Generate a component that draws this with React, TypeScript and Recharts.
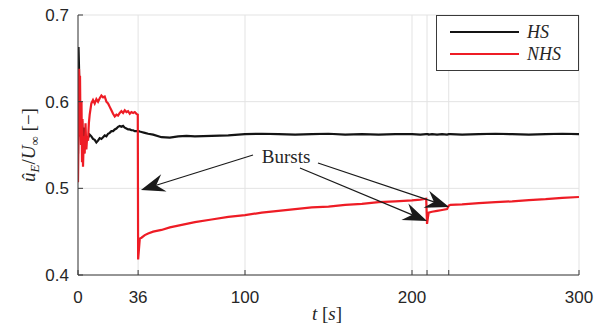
import React from 'react';
import {
  LineChart, Line, XAxis, YAxis, CartesianGrid, Legend, ReferenceLine, ReferenceDot,
} from 'recharts';

const times = [0, 0.3, 0.6, 0.9, 1.2, 1.5, 1.8, 2.1, 2.4, 2.7, 3,
  3.5, 4, 4.5, 5, 5.5, 6, 6.5, 7,
  8, 9, 10, 11, 12, 13, 14, 15, 16, 17, 18, 19, 20, 21, 22, 23, 24, 25, 26, 27, 28, 29, 30, 31, 32, 33, 34, 35,
  35.8, 36, 36.3, 37, 38, 40, 42, 45,
  50, 55, 60, 65, 70,
  80, 90, 100, 110, 120, 130, 140, 150, 160, 170, 180, 190, 200,
  205, 208.5, 209, 209.5, 210, 212, 215, 218, 221, 222, 223,
  230, 240, 250, 260, 270, 280, 290, 300];

const hsValues = [0.540, 0.663, 0.640, 0.575, 0.560, 0.568, 0.575, 0.565, 0.578, 0.565, 0.560,
  0.570, 0.558, 0.562, 0.555, 0.556, 0.558, 0.560, 0.562,
  0.560, 0.557, 0.556, 0.553, 0.555, 0.558, 0.557, 0.559, 0.561, 0.560, 0.563, 0.564, 0.566, 0.566, 0.568, 0.569, 0.571, 0.572, 0.571, 0.572, 0.570, 0.569, 0.568, 0.568, 0.567, 0.567, 0.566, 0.566,
  0.566, 0.566, 0.566, 0.5655, 0.565, 0.564, 0.563, 0.562,
  0.559, 0.5585, 0.560, 0.5605, 0.560,
  0.5605, 0.561, 0.5625, 0.563, 0.5625, 0.562, 0.5625, 0.563, 0.562, 0.5625, 0.562, 0.5625, 0.5625,
  0.562, 0.5625, 0.5625, 0.5625, 0.562, 0.5625, 0.562, 0.5625, 0.562, 0.5625, 0.5625,
  0.562, 0.5625, 0.563, 0.5625, 0.562, 0.5625, 0.563, 0.5625];

const nhsValues = [0.507, 0.560, 0.638, 0.620, 0.630, 0.570, 0.550, 0.600, 0.530, 0.580, 0.525,
  0.560, 0.540, 0.575, 0.545, 0.560, 0.555, 0.575, 0.585,
  0.598, 0.602, 0.598, 0.603, 0.600, 0.604, 0.607, 0.605, 0.606, 0.600, 0.598, 0.594, 0.590, 0.586, 0.583, 0.585, 0.584, 0.587, 0.589, 0.587, 0.590, 0.588, 0.589, 0.586, 0.588, 0.587, 0.588, 0.586,
  0.585, 0.418, 0.425, 0.442, 0.443, 0.446, 0.448, 0.450,
  0.452, 0.455, 0.457, 0.459, 0.461,
  0.464, 0.467, 0.469, 0.472, 0.474, 0.476, 0.478, 0.479, 0.481, 0.482, 0.484, 0.485, 0.486,
  0.487, 0.488, 0.459, 0.466, 0.472, 0.473, 0.474, 0.475, 0.476, 0.480, 0.481,
  0.4815, 0.483, 0.484, 0.485, 0.4865, 0.4875, 0.489, 0.490];

const xTicks = [0, 36, 100, 200, 209, 222, 300];
const xTickLabels = [0, 36, 100, 200, 300];
const yTicks = [0.4, 0.5, 0.6, 0.7];

const seriesNames = ['HS', 'NHS'];
const seriesColors = ['#141414', '#ee1c25'];

// annotation arrows: [start, tip] in data coordinates
const arrowSegments = [
  [{ x: 104.8, y: 0.5385 }, { x: 37.7, y: 0.4981 }],
  [{ x: 143.7, y: 0.5292 }, { x: 222.2, y: 0.4785 }],
  [{ x: 132.9, y: 0.5235 }, { x: 209.0, y: 0.4623 }],
];
const burstsText = { x: 124.6, y: 0.5362, label: 'Bursts' };

const data = times.map((t, i) => ({ t, hs: hsValues[i], nhs: nhsValues[i] }));

const AXIS = '#3a3a3a';
const TXT = '#262626';

const BottomTick = (props: any) => {
  const { x, y, payload } = props;
  const show = xTickLabels.includes(payload.value);
  return (
    <g>
      <line x1={x} x2={x} y1={y} y2={y - 5} stroke={AXIS} strokeWidth={1} />
      {show && (
        <text x={x} y={y + 28} textAnchor="middle" fontFamily="'Liberation Sans', Arial, sans-serif" fontSize={17} fill={TXT}>
          {payload.value}
        </text>
      )}
    </g>
  );
};

const TopTick = (props: any) => {
  const { x, y } = props;
  return <line x1={x} x2={x} y1={y} y2={y + 5} stroke={AXIS} strokeWidth={1} />;
};

const LeftTick = (props: any) => {
  const { x, y, payload } = props;
  return (
    <g>
      <line x1={x} x2={x + 5} y1={y} y2={y} stroke={AXIS} strokeWidth={1} />
      <text x={x - 9} y={y + 6} textAnchor="end" fontFamily="'Liberation Sans', Arial, sans-serif" fontSize={17} fill={TXT}>
        {payload.value.toFixed(1)}
      </text>
    </g>
  );
};

const RightTick = (props: any) => {
  const { x, y } = props;
  return <line x1={x} x2={x - 5} y1={y} y2={y} stroke={AXIS} strokeWidth={1} />;
};

const arrowShape = (props: any) => {
  const { x1, y1, x2, y2 } = props;
  const dx = x2 - x1;
  const dy = y2 - y1;
  const len = Math.hypot(dx, dy) || 1;
  const ux = dx / len;
  const uy = dy / len;
  const nx = -uy;
  const ny = ux;
  const L = 24;
  const W = 9;
  const N = 8;
  const bx = x2 - L * ux;
  const by = y2 - L * uy;
  const mx = x2 - (L - N) * ux;
  const my = y2 - (L - N) * uy;
  const pts = [
    [x2, y2],
    [bx + W * nx, by + W * ny],
    [mx, my],
    [bx - W * nx, by - W * ny],
  ].map((p) => p.join(',')).join(' ');
  return (
    <g>
      <line x1={x1} y1={y1} x2={mx} y2={my} stroke="#1a1a1a" strokeWidth={1.2} />
      <polygon points={pts} fill="#1a1a1a" />
    </g>
  );
};

const LegendContent = () => (
  <svg width={143} height={56} style={{ display: 'block' }}>
    <rect x={0.5} y={0.5} width={142} height={55} fill="#fff" stroke={AXIS} strokeWidth={1} />
    {seriesNames.map((n, i) => (
      <g key={n}>
        <line x1={14} x2={83} y1={17 + i * 22} y2={17 + i * 22} stroke={seriesColors[i]} strokeWidth={2} />
        <text x={91} y={23 + i * 22} fontFamily="'Liberation Serif', 'DejaVu Serif', serif" fontStyle="italic" fontSize={18} fill={TXT}>
          {n}
        </text>
      </g>
    ))}
  </svg>
);

const YLabel = () => (
  <text
    transform="translate(35,145) rotate(-90)"
    textAnchor="middle"
    fontFamily="'Liberation Serif', 'DejaVu Serif', serif"
    fontSize={19}
    fill={TXT}
  >
    <tspan fontStyle="italic">û</tspan>
    <tspan fontStyle="italic" fontSize={13} dy={4}>E</tspan>
    <tspan dy={-4}>/</tspan>
    <tspan fontStyle="italic">U</tspan>
    <tspan fontSize={13} dy={4}>∞</tspan>
    <tspan dy={-4}> [−]</tspan>
  </text>
);

const XLabel = () => (
  <text x={327} y={320} textAnchor="middle" fontFamily="'Liberation Serif', 'DejaVu Serif', serif" fontSize={19} fill={TXT}>
    <tspan fontStyle="italic">t</tspan>
    <tspan> [</tspan>
    <tspan fontStyle="italic">s</tspan>
    <tspan>]</tspan>
  </text>
);

export default function App() {
  return (
    <div style={{ position: 'absolute', left: 0, top: 0, width: 616, height: 331, background: '#fff' }}>
      <LineChart width={616} height={331} data={data} margin={{ top: 15, right: 37, bottom: 0, left: 0 }}>
        <CartesianGrid stroke="#e3e3e3" strokeWidth={1} />
        <XAxis
          dataKey="t"
          type="number"
          domain={[0, 300]}
          allowDataOverflow
          ticks={xTicks}
          interval={0}
          tickSize={0}
          tickMargin={0}
          height={56}
          axisLine={{ stroke: AXIS }}
          tickLine={false}
          tick={<BottomTick />}
          label={{ content: () => <XLabel /> }}
        />
        <XAxis
          xAxisId="top"
          orientation="top"
          dataKey="t"
          type="number"
          domain={[0, 300]}
          allowDataOverflow
          ticks={xTicks}
          interval={0}
          tickSize={0}
          tickMargin={0}
          height={0}
          axisLine={{ stroke: AXIS }}
          tickLine={false}
          tick={<TopTick />}
        />
        <YAxis
          type="number"
          domain={[0.4, 0.7]}
          allowDataOverflow
          ticks={yTicks}
          interval={0}
          tickSize={0}
          tickMargin={0}
          width={78}
          axisLine={{ stroke: AXIS }}
          tickLine={false}
          tick={<LeftTick />}
          label={{ content: () => <YLabel /> }}
        />
        <YAxis
          yAxisId="r"
          orientation="right"
          type="number"
          domain={[0.4, 0.7]}
          allowDataOverflow
          ticks={yTicks}
          interval={0}
          tickSize={0}
          tickMargin={0}
          width={0}
          axisLine={{ stroke: AXIS }}
          tickLine={false}
          tick={<RightTick />}
        />
        <Line type="linear" dataKey="hs" name={seriesNames[0]} stroke={seriesColors[0]} strokeWidth={2.2} dot={false} isAnimationActive={false} />
        <Line type="linear" dataKey="nhs" name={seriesNames[1]} stroke={seriesColors[1]} strokeWidth={2.2} dot={false} isAnimationActive={false} />
        {arrowSegments.map((seg, i) => (
          <ReferenceLine key={i} segment={seg} ifOverflow="visible" shape={arrowShape} />
        ))}
        <ReferenceDot
          x={burstsText.x}
          y={burstsText.y}
          ifOverflow="visible"
          shape={(p: any) => (
            <text x={p.cx} y={p.cy + 6} textAnchor="middle" fontFamily="'Liberation Serif', 'DejaVu Serif', serif" fontSize={19} fill={TXT}>
              {burstsText.label}
            </text>
          )}
        />
        <Legend
          layout="vertical"
          align="center"
          verticalAlign="middle"
          wrapperStyle={{ left: 436, top: 15, width: 143, height: 56 }}
          content={() => <LegendContent />}
        />
      </LineChart>
    </div>
  );
}
